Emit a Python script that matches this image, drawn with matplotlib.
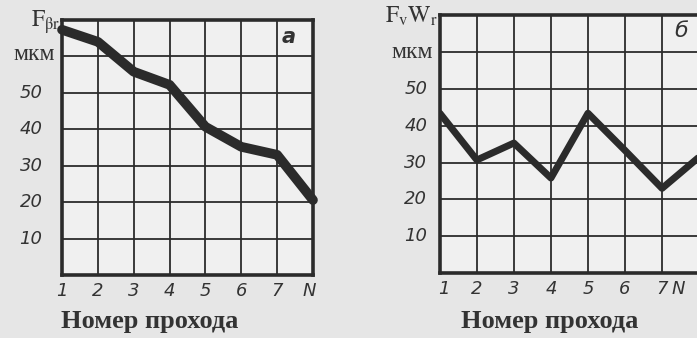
import matplotlib
matplotlib.use("Agg")
import matplotlib.pyplot as plt

plt.rcParams['mathtext.fontset'] = 'stix'

# Data
passes = [1, 2, 3, 4, 5, 6, 7, 8]
x_tick_labels = ['1', '2', '3', '4', '5', '6', '7', 'N']
f_beta_r = [67.3, 64.0, 55.8, 52.2, 40.7, 35.2, 33.0, 20.6]
f_v_w_r = [43.4, 30.7, 35.3, 25.8, 43.4, 33.3, 23.0, 31.5]
y_ticks = [10, 20, 30, 40, 50]
y_tick_labels = ['10', '20', '30', '40', '50']
right_xtick_pos = [1.1, 2, 3, 4, 5, 6, 7, 7.45]

fig = plt.figure(figsize=(6.97, 3.38), dpi=100, facecolor='#e6e6e6')

ink = '#2b2b2b'
tick_font = dict(family='DejaVu Sans', style='italic', size=13, color='#333333')
label_font = dict(family='Liberation Serif', weight='bold', size=19, color='#333333')

def setup(ax, xtick_pos, pad_y):
    ax.set_facecolor('#f0f0f0')
    ax.set_xlim(1, 8)
    ax.set_ylim(0, 70)
    ax.set_xticks(range(1, 9))
    ax.set_yticks(range(0, 71, 10))
    ax.grid(True, color=ink, lw=1.3)
    ax.tick_params(length=0, labelbottom=False, labelleft=False)
    for s in ax.spines.values():
        s.set_linewidth(2.6)
        s.set_color(ink)
    for xp, lab in zip(xtick_pos, x_tick_labels):
        ax.annotate(lab, xy=(xp, 0), xycoords='data', xytext=(0, -11.5),
                    textcoords='offset points', ha='center', va='center',
                    annotation_clip=False, **tick_font)
    for yp, lab in zip(y_ticks, y_tick_labels):
        ax.annotate(lab, xy=(1, yp), xycoords='data', xytext=(-pad_y, 0),
                    textcoords='offset points', ha='right', va='center',
                    annotation_clip=False, **tick_font)

# Left chart (а)
ax1 = fig.add_axes([0.089, 0.186, 0.360, 0.755])
setup(ax1, passes[:7] + [7.9], 14)
ax1.plot(passes, f_beta_r, color=ink, lw=7, solid_capstyle='round',
         solid_joinstyle='round', clip_on=False, zorder=5)
fig.text(31 / 697, 1 - 22 / 338, r'$\mathrm{F_{\beta r}}$', ha='left', va='center',
         fontsize=17, color='#333333')
fig.text(34 / 697, 1 - 55 / 338, 'мкм', ha='center', va='center',
         family='Liberation Serif', size=17, color='#333333')
fig.text(289 / 697, 1 - 37 / 338, 'а', ha='center', va='center',
         family='DejaVu Sans', style='italic', weight='bold', size=15, color='#333333')
fig.text(150 / 697, 1 - 328 / 338, 'Номер прохода', ha='center', va='baseline', **label_font)

# Right chart (б)
ax2 = fig.add_axes([0.631, 0.192, 0.372, 0.763])
setup(ax2, right_xtick_pos, 9)
ax2.plot(passes, f_v_w_r, color=ink, lw=5, solid_capstyle='round',
         solid_joinstyle='round', clip_on=True, zorder=5)
fig.text(412 / 697, 1 - 16 / 338, r'$\mathrm{F_vW_r}$', ha='center', va='center',
         fontsize=17, color='#333333')
fig.text(412 / 697, 1 - 53 / 338, 'мкм', ha='center', va='center',
         family='Liberation Serif', size=17, color='#333333')
fig.text(681 / 697, 1 - 31 / 338, 'б', ha='center', va='center',
         family='DejaVu Sans', style='italic', size=16, color='#333333')
fig.text(550 / 697, 1 - 328 / 338, 'Номер прохода', ha='center', va='baseline', **label_font)

fig.savefig('out.png', dpi=100, facecolor=fig.get_facecolor())
